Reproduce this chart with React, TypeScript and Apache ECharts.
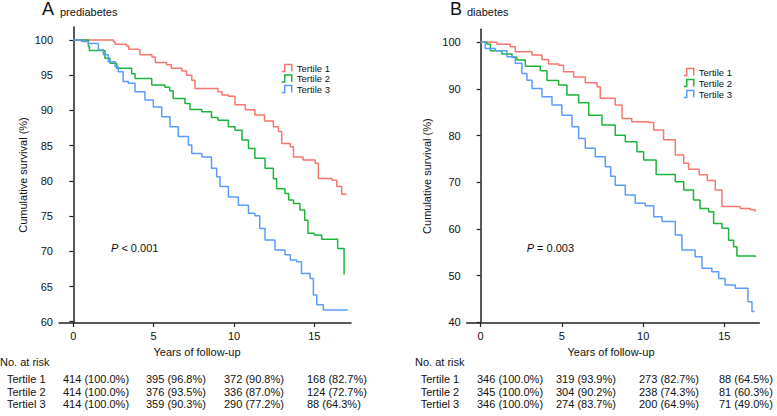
import React, { useEffect, useRef } from 'react';
import * as echarts from 'echarts';

const FONT = '"Liberation Sans", Arial, Helvetica, sans-serif';
const COLORS = ['#F8766D', '#1DB43A', '#5B9BFF'];
const seriesNames = ['Tertile 1', 'Tertile 2', 'Tertile 3'];
const xTicks = [0, 5, 10, 15];
const yTicksA = [60, 65, 70, 75, 80, 85, 90, 95, 100];
const yTicksB = [40, 50, 60, 70, 80, 90, 100];

// Panel A (prediabetes)
const aT1Time = [0, 2.5, 2.6, 3.3, 3.45, 4.0, 4.15, 4.9, 5.1, 5.8, 6.1, 6.75, 7.05, 7.37, 7.57, 9.0, 9.25, 9.65, 10.06, 10.7, 11.3, 11.9, 12.45, 12.76, 12.97, 13.5, 13.7, 14.3, 15.05, 15.25, 16.1, 16.4, 16.7, 17.0];
const aT1Surv = [100, 99.76, 99.4, 99.15, 98.7, 98.6, 97.9, 97.6, 96.8, 96.5, 96.0, 95.6, 95.0, 94.3, 93.1, 92.65, 92.2, 92.0, 90.8, 90.1, 89.35, 88.5, 87.7, 87.0, 85.3, 84.85, 83.4, 82.95, 82.5, 80.35, 80.1, 79.2, 78.1, 78.1];
const aT2Time = [0, 0.94, 1.0, 1.97, 2.28, 2.7, 3.63, 3.84, 4.88, 5.7, 6.0, 6.22, 6.95, 7.26, 8.0, 8.6, 9.0, 9.65, 10.06, 10.5, 10.9, 11.3, 11.93, 12.45, 12.65, 13.17, 13.4, 13.7, 14.1, 14.4, 14.6, 15.0, 15.45, 16.45, 16.85];
const aT2Surv = [100, 99.05, 98.5, 97.4, 96.7, 96.0, 95.2, 94.55, 93.6, 93.3, 92.8, 91.7, 91.0, 90.15, 89.8, 89.0, 88.6, 87.7, 87.2, 85.8, 84.6, 83.2, 81.8, 80.3, 78.9, 78.2, 77.3, 76.8, 75.85, 74.4, 72.55, 72.3, 71.7, 70.4, 66.7];
const aT3Time = [0, 0.52, 0.94, 1.56, 1.87, 2.18, 2.6, 2.8, 3.1, 3.42, 3.84, 4.46, 4.98, 5.5, 6.02, 6.53, 7.16, 7.37, 8.0, 8.6, 8.92, 9.13, 9.65, 10.27, 10.9, 11.3, 11.6, 11.93, 12.55, 13.17, 13.5, 13.9, 14.2, 14.73, 14.94, 15.15, 15.56, 17.07];
const aT3Surv = [100, 99.8, 99.5, 98.6, 97.9, 96.9, 96.2, 95.5, 94.1, 93.85, 92.65, 91.5, 90.5, 89.1, 87.7, 86.3, 85.1, 83.9, 83.4, 81.8, 80.6, 79.2, 77.7, 76.55, 75.4, 75.05, 73.25, 71.6, 70.2, 69.5, 68.75, 68.5, 66.85, 66.15, 63.8, 62.4, 61.65, 61.65];

// Panel B (diabetes)
const bT1Time = [0, 1.0, 1.82, 2.13, 3.16, 3.77, 4.18, 4.8, 5.1, 5.72, 6.44, 7.16, 7.36, 8.28, 8.7, 9.3, 10.34, 10.65, 11.26, 11.98, 12.5, 12.8, 13.45, 13.95, 14.44, 14.85, 15.98, 16.6, 16.9];
const bT1Surv = [100, 99.6, 99.05, 98.0, 97.3, 96.35, 95.35, 95.1, 93.7, 92.6, 91.35, 90.5, 88.0, 86.6, 83.7, 83.0, 82.8, 81.2, 79.1, 75.85, 74.1, 72.8, 71.6, 70.4, 68.35, 64.8, 64.4, 64.1, 63.7];
const bT2Time = [0, 0.39, 0.6, 1.31, 1.93, 2.23, 2.75, 3.67, 4.08, 4.8, 5.31, 6.03, 6.65, 7.47, 8.28, 8.9, 9.62, 10.03, 10.8, 11.98, 12.5, 13.1, 13.5, 14.03, 14.34, 14.85, 15.26, 15.57, 15.77, 16.9];
const bT2Surv = [100, 99.6, 98.2, 97.5, 96.8, 96.2, 94.9, 93.9, 91.8, 90.85, 88.7, 87.05, 84.4, 82.3, 80.1, 78.7, 76.55, 74.8, 71.7, 70.1, 68.35, 66.2, 64.4, 63.7, 61.2, 60.15, 57.6, 56.2, 54.2, 54.0];
const bT3Time = [0, 0.28, 0.9, 1.62, 2.13, 2.54, 2.85, 3.16, 3.77, 4.39, 5.0, 5.62, 6.03, 6.44, 7.05, 7.67, 8.0, 8.28, 8.9, 9.51, 10.13, 10.65, 11.16, 11.98, 12.39, 13.2, 13.62, 14.23, 14.65, 15.05, 15.67, 16.45, 16.7, 16.85];
const bT3Surv = [100, 98.7, 98.2, 96.9, 95.5, 93.35, 91.9, 90.1, 88.35, 86.6, 84.4, 81.9, 79.4, 77.3, 75.5, 73.35, 71.3, 69.4, 67.3, 65.5, 65.0, 62.6, 61.6, 58.7, 55.5, 54.05, 51.6, 50.85, 49.4, 48.0, 47.3, 44.4, 42.3, 42.3];

// Numbers at risk
const riskRowLabels = ['Tertile 1', 'Tertile 2', 'Tertiel 3'];
const riskA1 = ['414 (100.0%)', '395 (96.8%)', '372 (90.8%)', '168 (82.7%)'];
const riskA2 = ['414 (100.0%)', '376 (93.5%)', '336 (87.0%)', '124 (72.7%)'];
const riskA3 = ['414 (100.0%)', '359 (90.3%)', '290 (77.2%)', '88 (64.3%)'];
const riskB1 = ['346 (100.0%)', '319 (93.9%)', '273 (82.7%)', '88 (64.5%)'];
const riskB2 = ['345 (100.0%)', '304 (90.2%)', '238 (74.3%)', '81 (60.3%)'];
const riskB3 = ['346 (100.0%)', '274 (83.7%)', '200 (64.9%)', '71 (49.0%)'];

const zip = (t: number[], s: number[]) => t.map((v, i) => [v, s[i]]);

const AXIS_COLOR = '#222';
const TEXT_COLOR = '#111';

function makeX(idx: number, min: number, max: number, padRight: number) {
  return {
    type: 'value', gridIndex: idx, min, max,
    name: 'Years of follow-up', nameLocation: 'middle', nameGap: 23,
    nameTextStyle: { fontSize: 11, color: TEXT_COLOR, fontFamily: FONT, padding: [0, padRight, 0, 0] },
    axisLine: { show: true, lineStyle: { color: AXIS_COLOR, width: 1.5 } },
    axisTick: { show: true, length: 4, customValues: xTicks, lineStyle: { color: AXIS_COLOR, width: 1.2 } },
    axisLabel: { customValues: xTicks, fontSize: 11, color: TEXT_COLOR, fontFamily: FONT, margin: 7 },
    splitLine: { show: false },
  };
}
function makeY(idx: number, min: number, max: number, ticks: number[], gap: number) {
  return {
    type: 'value', gridIndex: idx, min, max,
    name: 'Cumulative survival (%)', nameLocation: 'middle', nameGap: gap, nameRotate: 90,
    nameTextStyle: { fontSize: 11, color: TEXT_COLOR, fontFamily: FONT },
    axisLine: { show: true, lineStyle: { color: AXIS_COLOR, width: 1.5 } },
    axisTick: { show: true, length: 4, customValues: ticks, lineStyle: { color: AXIS_COLOR, width: 1.2 } },
    axisLabel: { customValues: ticks, fontSize: 11, color: TEXT_COLOR, fontFamily: FONT, margin: 6 },
    splitLine: { show: false },
  };
}
function makeSeries(name: string, color: string, idx: number, data: number[][]) {
  return {
    type: 'line', name, xAxisIndex: idx, yAxisIndex: idx, step: 'end', data,
    showSymbol: false, symbol: 'none', color,
    lineStyle: { color, width: 1.5 }, z: 3,
  };
}

const ICON = 'path://M0,7 L3,7 L3,0 L10,0 L10,7';

function txt(text: string, x: number, y: number, size = 11, extra: any = {}) {
  return {
    type: 'text', x, y, silent: true,
    style: { text, fill: TEXT_COLOR, font: `${size}px ${FONT}`, align: 'left', verticalAlign: 'middle', ...extra },
  };
}

export default function App() {
  const ref = useRef<HTMLDivElement>(null);
  useEffect(() => {
    if (!ref.current) return;
    const chart = echarts.init(ref.current, null, { renderer: 'svg' });
    const legendData = seriesNames.map((n, i) => ({
      name: n,
      itemStyle: { color: 'transparent', borderColor: COLORS[i], borderWidth: 1.5 },
    }));
    const legendBase = {
      orient: 'vertical', itemWidth: 10, itemHeight: 7, icon: ICON, padding: 0,
      textStyle: { fontSize: 9.5, color: TEXT_COLOR, fontFamily: FONT, padding: [0, 0, 0, 0] },
      selectedMode: false, data: legendData,
    };
    chart.setOption({
      animation: false,
      backgroundColor: '#fff',
      grid: [
        { left: 59, top: 27, width: 292, height: 296 },
        { left: 466.7, top: 29.3, width: 292.6, height: 293.7 },
      ],
      xAxis: [makeX(0, -0.89, 17.28, 16), makeX(1, -0.86, 17.15, 4)],
      yAxis: [makeY(0, 59.82, 101.85, yTicksA, 31), makeY(1, 39.85, 102.8, yTicksB, 34)],
      legend: [
        { ...legendBase, left: 281, top: 63, itemGap: 0.5 },
        { ...legendBase, left: 683, top: 67, itemGap: 1 },
      ],
      series: [
        makeSeries(seriesNames[0], COLORS[0], 0, zip(aT1Time, aT1Surv)),
        makeSeries(seriesNames[1], COLORS[1], 0, zip(aT2Time, aT2Surv)),
        makeSeries(seriesNames[2], COLORS[2], 0, zip(aT3Time, aT3Surv)),
        makeSeries(seriesNames[0], COLORS[0], 1, zip(bT1Time, bT1Surv)),
        makeSeries(seriesNames[1], COLORS[1], 1, zip(bT2Time, bT2Surv)),
        makeSeries(seriesNames[2], COLORS[2], 1, zip(bT3Time, bT3Surv)),
      ],
    });

    const colXA = [63, 146, 224, 307];
    const colXB = [477, 556, 639, 719];
    const rowY = [379.3, 392, 404.3];
    const riskA = [riskA1, riskA2, riskA3];
    const riskB = [riskB1, riskB2, riskB3];
    const graphics: any[] = [
      txt('A', 42, 9, 18),
      txt('prediabetes', 60, 11.5, 11),
      txt('B', 450, 9, 18),
      txt('diabetes', 467, 11.5, 11),
      {
        type: 'text', x: 111, y: 247.7, silent: true,
        style: {
          text: '{i|P} < 0.001', fill: TEXT_COLOR, font: `11px ${FONT}`, verticalAlign: 'middle',
          rich: { i: { fontStyle: 'italic', fontSize: 11, fontFamily: FONT, fill: TEXT_COLOR } },
        },
      },
      {
        type: 'text', x: 526.7, y: 247.7, silent: true,
        style: {
          text: '{i|P} = 0.003', fill: TEXT_COLOR, font: `11px ${FONT}`, verticalAlign: 'middle',
          rich: { i: { fontStyle: 'italic', fontSize: 11, fontFamily: FONT, fill: TEXT_COLOR } },
        },
      },
      txt('No. at risk', 0, 361.7, 11),
      txt('No. at risk', 415, 361.7, 11),
    ];
    riskRowLabels.forEach((lab, r) => {
      graphics.push(txt(lab, 7, rowY[r], 11));
      graphics.push(txt(lab, 420.7, rowY[r], 11));
      riskA[r].forEach((v, c) => graphics.push(txt(v, colXA[c], rowY[r], 11)));
      riskB[r].forEach((v, c) => graphics.push(txt(v, colXB[c], rowY[r], 11)));
    });
    chart.setOption({ graphic: graphics });
    return () => chart.dispose();
  }, []);
  return <div ref={ref} style={{ position: 'absolute', left: 0, top: 0, width: 777, height: 416 }} />;
}
